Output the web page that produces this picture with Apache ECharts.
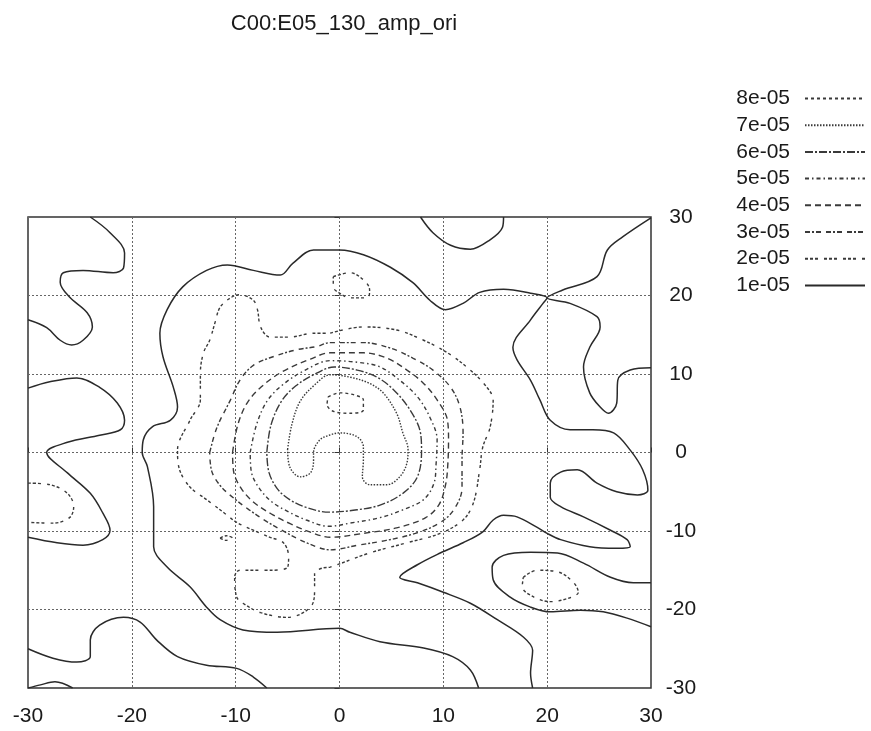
<!DOCTYPE html>
<html>
<head>
<meta charset="utf-8">
<title>C00:E05_130_amp_ori</title>
<script src="https://cdn.jsdelivr.net/npm/echarts@6/dist/echarts.min.js"></script>
<style>
  html, body { margin: 0; padding: 0; background: #fff; }
  #chart { width: 871px; height: 731px; }
</style>
</head>
<body>
<div id="chart"></div>
<script>
// Contour levels, listed top-to-bottom as in the key
const levels = ['8e-05', '7e-05', '6e-05', '5e-05', '4e-05', '3e-05', '2e-05', '1e-05'];
const axisTicks = [-30, -20, -10, 0, 10, 20, 30];

// ---- 1e-05 contour pieces, [x, y] ----
const c1TopLeft = [[-24,30],[-22.1,28],[-20.7,25.4],[-20.8,23.5],[-21.8,22.9],[-24.7,23.2],[-26.6,22.9],[-26.9,21.7],[-26,19.8],[-24.3,17.8],[-23.8,16],[-24.7,14.3],[-25.8,13.7],[-26.9,14.3],[-28.2,15.9],[-30,16.9]];
const c1West = [[-30,8.2],[-27.9,9],[-25.3,9.5],[-23.1,8.3],[-21.4,6.3],[-20.7,4.1],[-21.1,2.9],[-23.1,2.2],[-26.2,1.3],[-28.2,0],[-26.2,-2.6],[-24,-5.2],[-22.8,-7.7],[-22.1,-9.9],[-22.8,-11.1],[-24.7,-11.8],[-27.2,-11.5],[-30,-10.8]];
const c1SouthWest = [[-30,-25],[-27.6,-26.2],[-25.3,-26.7],[-24,-26],[-24,-23.9],[-23.1,-22],[-20.8,-21],[-19.2,-21.6],[-17.6,-23.9],[-15.6,-26],[-12.8,-27.1],[-9.9,-27.5],[-8.3,-28.6],[-7,-30]];
const c1Corner = [[-30,-30],[-28.8,-29.6],[-27.4,-29.2],[-25.7,-30]];
const c1Top = [[7.8,30],[9,28],[10.7,26.4],[12.6,25.9],[14.5,27.1],[15.7,28.7],[15.8,30]];
const c1Main = [[13.4,-30],[12.6,-27.7],[10.9,-26],[8.1,-24.9],[3.9,-24.1],[1,-22.9],[0,-22.4],[-6,-22.9],[-9.3,-22.6],[-11.5,-21.3],[-12.8,-19.7],[-14.4,-17.1],[-16.6,-14.6],[-17.9,-12],[-17.9,-6.9],[-18.5,-1.8],[-19,0],[-18.9,1.6],[-18,3.3],[-16.3,4.1],[-15.6,5.8],[-16,8.3],[-17,12.2],[-17.3,15.2],[-16.6,18.2],[-15.1,21.1],[-12.8,23.2],[-10.8,23.9],[-8.3,23.2],[-5.7,22.6],[-4.5,24.1],[-2.5,25.8],[0,25.8],[2.3,25.2],[4.9,23.6],[7.1,21.6],[8.7,19.4],[10.2,18.2],[11.9,19],[13.5,20.4],[15.8,20.8],[18.4,20.3],[20,19.7],[19.6,19],[18.4,16.9],[16.7,13.4],[17.1,11.8],[18.4,9.2],[19.3,6.7],[20.3,4.1],[22.2,2.9],[24.4,2.9],[26.4,2.5],[28,0.3],[29.2,-2.2],[29.7,-4.8],[28.7,-5.4],[26.7,-5],[24.8,-3.9],[22.9,-2.2],[21.3,-2.5],[20.3,-3.9],[20.3,-5.7],[21.3,-6.9],[23.5,-8.2],[26.1,-9.9],[27.7,-11.1],[28,-12],[26.7,-12.2],[24.1,-12],[21.3,-11.1],[20,-10.3],[19,-9.5],[17.1,-8.2],[15.8,-8],[14.8,-8.6],[13.8,-10.1],[11.9,-11.5],[9.7,-12.8],[7.5,-14.3],[5.8,-15.9],[7.5,-16.6],[10,-17.8],[12.6,-19.2],[15.2,-21.3],[17.7,-23.5],[18.6,-25.2],[18.4,-28.1],[18.6,-30]];
const c1NorthEast = [[30,29.9],[27.3,27.5],[25.8,25.8],[24.8,22.4],[21.5,20.7],[20,19.7],[22.2,19],[24.8,17.3],[25.1,16],[24.1,13.4],[23.5,10.9],[24.1,7.6],[25.1,5.8],[25.9,5],[26.7,6.3],[26.8,9.2],[28,10.5],[30,10.8]];
const c1SouthEast = [[30,-16.6],[28.3,-16.6],[26.1,-15.9],[23.5,-14.1],[21,-12.8],[18.4,-12.7],[15.8,-13.1],[14.7,-14.6],[14.8,-16.2],[16.4,-18.4],[18.4,-19.7],[20.3,-20.3],[23.2,-20.1],[25.4,-20.3],[27.7,-21.1],[30,-22.2]];

// ---- 2e-05 ----
const c2Main = [[-0.9,15.2],[2.3,16],[5.5,15.6],[8.1,14.3],[10.4,12.7],[12.6,10.5],[14.2,8.3],[14.8,6.7],[14.5,3.2],[13.8,0.7],[13.5,-2.2],[12.9,-6.4],[11.9,-8.6],[9.7,-10.3],[6.5,-11.5],[2.9,-12.8],[-0.9,-14.6],[-1.6,-14.7],[-2.4,-15.4],[-2.4,-17.5],[-2.8,-19.7],[-5,-21],[-7.6,-20.4],[-9.3,-19.2],[-9.9,-18.4],[-10.1,-15.9],[-9.6,-15],[-6.7,-15],[-5,-14.6],[-4.9,-13.3],[-5.4,-11.5],[-6.7,-10.8],[-8.3,-9.9],[-9.9,-8.9],[-11.2,-7.6],[-12.8,-6],[-14.4,-4.4],[-15.4,-2.2],[-15.6,0.3],[-14.4,4.1],[-13.4,6.7],[-13.4,10.1],[-13.1,12.7],[-12.5,14.3],[-12,16.5],[-11.5,18.5],[-10.5,19.7],[-9.6,20.1],[-8.3,19.4],[-7.9,18.2],[-7.6,16],[-6.7,14.7],[-4.8,14.7],[-2.5,15.2],[-0.9,15.2]];
const c2North = [[-0.6,22.4],[1,22.9],[2.3,22],[2.9,20.7],[2.7,19.7],[1,19.7],[0,20.3],[-0.6,21.1],[-0.6,22.4]];
const c2West = [[-30,-3.9],[-27.9,-4.1],[-26.2,-5.2],[-25.6,-6.9],[-26,-8.3],[-27.6,-9],[-30,-8.9]];
const c2SouthEast = [[17.7,-15.9],[19,-15],[21,-15.2],[22.5,-16.5],[23,-17.8],[22.2,-18.5],[20.3,-19],[18.7,-18.4],[17.6,-17.1],[17.7,-15.9]];
const c2Speck = [[-11.5,-10.9],[-10.9,-10.6],[-10.3,-10.9],[-10.9,-11.2],[-11.5,-10.9]];

// ---- 3e-05 .. 8e-05 (nested rings round the centre) ----
const c3 = [[-12.5,0],[-11.8,3.2],[-10.5,6.7],[-9.6,9.2],[-8.3,11.1],[-6.4,12.2],[-4.1,13.1],[-2.2,13.5],[-0.9,14],[2.3,14],[4.9,13.3],[7.1,12],[9,10.5],[10.7,8.3],[11.6,5.8],[11.9,2.5],[11.8,-0.9],[11.8,-4.5],[11,-7.3],[9.6,-9],[7.3,-10.3],[4.5,-11.2],[1.8,-11.8],[-0.9,-12.4],[-3,-11.6],[-5,-10.3],[-7,-8.8],[-8.7,-7.3],[-10.2,-5.8],[-11.5,-4.2],[-12.3,-2.4],[-12.5,0]];
const c4 = [[-10.3,0],[-9.8,3.5],[-8.9,6.3],[-7.5,8.4],[-5.5,10.3],[-2.8,11.9],[-0.9,12.7],[2.3,12.7],[4.6,12],[6.5,10.5],[8.1,8.8],[9.4,6.7],[10.4,4.1],[10.5,1.6],[10.4,-2.2],[10.2,-4.2],[9.6,-6.6],[8.3,-8.3],[5.5,-9.6],[2.3,-10.3],[-0.9,-10.8],[-2.7,-10.2],[-4.7,-9.1],[-6.6,-7.8],[-8.3,-6.3],[-9.5,-4.5],[-10.2,-2.4],[-10.3,0]];
const c5 = [[-8.6,0],[-8,3.5],[-7,6.5],[-5.5,8.6],[-3.3,10.5],[-0.9,11.7],[1.7,11.5],[3.9,10.9],[5.8,9.2],[7.5,7.1],[8.7,4.5],[9.4,1.6],[9.3,-1.5],[9.1,-3.9],[8.1,-6],[6.1,-7.3],[3.9,-8.3],[1,-9],[-1,-9.4],[-3.2,-8.6],[-5,-7.5],[-6.6,-6.2],[-7.8,-4.4],[-8.5,-2.4],[-8.6,0]];
const c6 = [[-7,0],[-6.6,3.5],[-5.6,6.5],[-4.2,8.5],[-2.2,10.1],[-0.5,10.9],[1.7,10.5],[3.6,9.6],[5.2,8],[6.8,5.4],[7.8,2.5],[7.9,0.2],[7.5,-3.1],[6.1,-5.2],[3.9,-6.7],[1.7,-7.3],[-1,-7.6],[-3.2,-7],[-4.8,-6],[-6,-4.6],[-6.8,-2.5],[-7,0]];
const c7 = [[-5,0.4],[-4.6,3.5],[-3.8,6.5],[-2.4,8.6],[-0.9,9.9],[1,9.6],[2.9,8.8],[4.2,7.6],[5.5,5],[6.1,2.5],[6.6,0.4],[6.5,-1.3],[5.8,-3.1],[4.6,-4.1],[2.9,-4.1],[2.2,-3.1],[2.3,-1],[2.3,0.7],[1.7,2],[0,2.5],[-1,2.2],[-1.9,1.6],[-2.5,0],[-2.5,-1],[-2.8,-2.6],[-3.8,-3.1],[-4.8,-1.8],[-5,0.4]];
const c8 = [[-1.1,7.1],[0,7.6],[1.5,7.3],[2.3,6.7],[2.3,5.4],[1,5],[-0.5,5.2],[-1.2,6.1],[-1.1,7.1]];

// Which pieces belong to which level
const piecesByLevel = {
  '8e-05': [c8],
  '7e-05': [c7],
  '6e-05': [c6],
  '5e-05': [c5],
  '4e-05': [c4],
  '3e-05': [c3],
  '2e-05': [c2Main, c2North, c2West, c2SouthEast, c2Speck],
  '1e-05': [c1TopLeft, c1West, c1SouthWest, c1Corner, c1Top, c1Main, c1NorthEast, c1SouthEast]
};

// Line pattern per level
const dashByLevel = {
  '8e-05': [3, 3],
  '7e-05': [1.5, 1.5],
  '6e-05': [8, 2, 2, 2],
  '5e-05': [4, 3, 1.5, 3],
  '4e-05': [6, 4],
  '3e-05': [5, 2, 2, 2, 5, 5],
  '2e-05': [3, 2, 3, 2, 3, 6],
  '1e-05': 'solid'
};

const FONT = 'Liberation Sans, Arial, Helvetica, sans-serif';
const INK = '#1a1a1a';

const series = [];
levels.forEach(function (lv) {
  piecesByLevel[lv].forEach(function (pts) {
    series.push({
      name: lv,
      type: 'line',
      data: pts,
      symbol: 'none',
      smooth: 0.35,
      silent: true,
      animation: false,
      itemStyle: { color: 'rgba(0,0,0,0)', opacity: 0 },
      lineStyle: {
        color: lv === '1e-05' ? '#2a2a2a' : '#3a3a3a',
        width: lv === '1e-05' ? 1.5 : 1.4,
        type: dashByLevel[lv]
      }
    });
  });
});

const chart = echarts.init(document.getElementById('chart'), null, { renderer: 'canvas' });
chart.setOption({
  backgroundColor: '#fff',
  animation: false,
  title: {
    text: 'C00:E05_130_amp_ori',
    left: 339,
    textAlign: 'center',
    top: 8,
    textStyle: { fontFamily: FONT, fontSize: 22, fontWeight: 'normal', color: INK }
  },
  legend: {
    data: levels,
    orient: 'vertical',
    right: 0,
    top: 83,
    align: 'right',
    itemWidth: 60,
    itemHeight: 16,
    itemGap: 5.7,
    selectedMode: false,
    itemStyle: { opacity: 0 },
    textStyle: { fontFamily: FONT, fontSize: 21, color: INK, padding: [0, 10, 0, 0] }
  },
  grid: {
    left: 28, right: 220, top: 217, bottom: 43,
    show: true, borderColor: '#333', borderWidth: 1.5, backgroundColor: 'transparent'
  },
  xAxis: {
    type: 'value',
    min: axisTicks[0], max: axisTicks[axisTicks.length - 1], interval: 10,
    axisLine: { show: false },
    axisTick: { show: true, inside: true, length: 5, lineStyle: { color: '#333' } },
    splitLine: { show: true, lineStyle: { color: '#666', type: [2, 2], width: 1 } },
    axisLabel: { fontFamily: FONT, fontSize: 21, color: INK, margin: 18 }
  },
  yAxis: {
    type: 'value',
    position: 'right',
    min: axisTicks[0], max: axisTicks[axisTicks.length - 1], interval: 10,
    axisLine: { show: false },
    axisTick: { show: true, inside: true, length: 5, lineStyle: { color: '#333' } },
    splitLine: { show: true, lineStyle: { color: '#666', type: [2, 2], width: 1 } },
    axisLabel: { fontFamily: FONT, fontSize: 21, color: INK, margin: 30, align: 'center' }
  },
  series: series
});
</script>
</body>
</html>
